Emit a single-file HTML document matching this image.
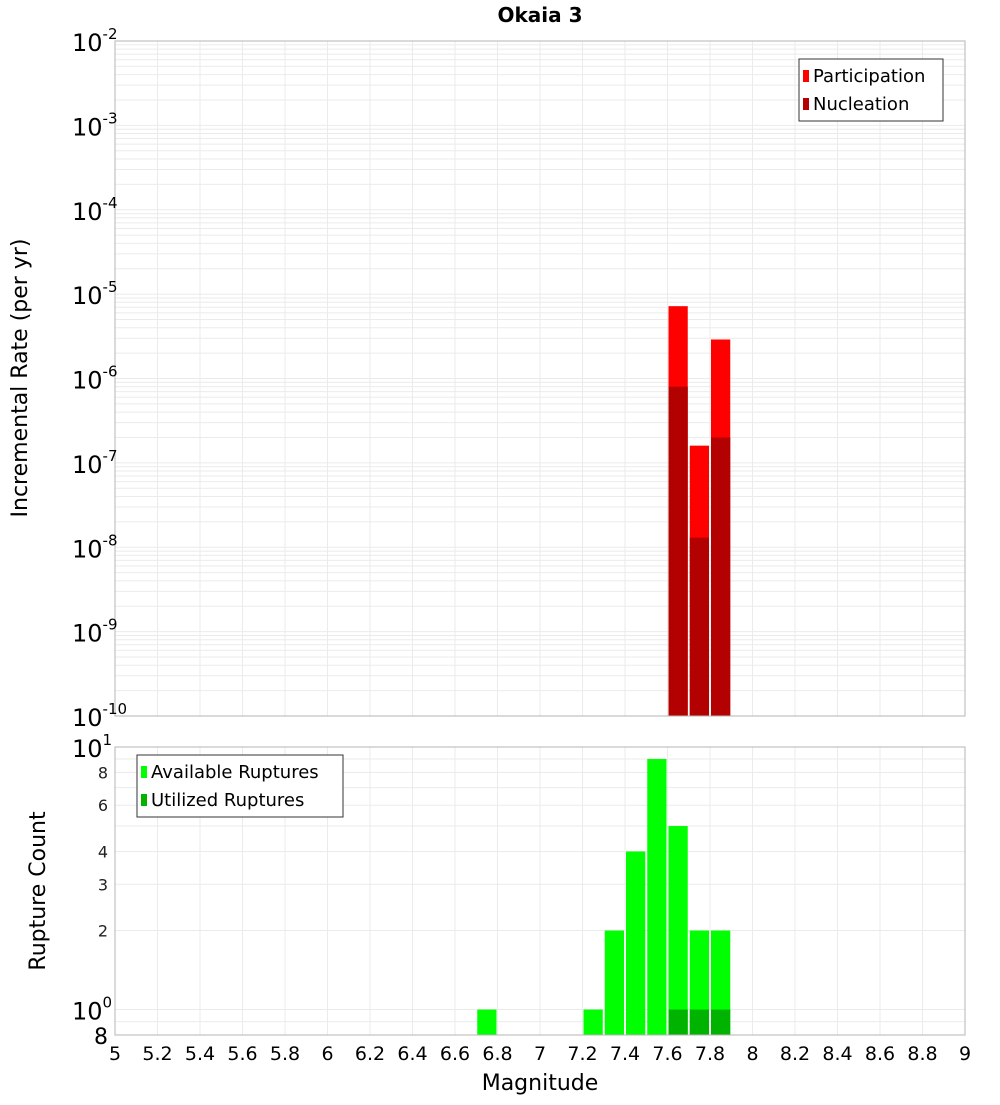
<!DOCTYPE html>
<html><head><meta charset="utf-8"><style>
body{margin:0;background:#fff;}
svg text{font-family:"DejaVu Sans","Liberation Sans",sans-serif;}
</style></head><body>
<svg id="chart" width="1000" height="1100" xmlns="http://www.w3.org/2000/svg">
<text x="540" y="22" font-size="20" font-weight="bold" text-anchor="middle">Okaia 3</text>
<g id="topPlot"></g><g id="botPlot"></g>
<text transform="translate(27,378) rotate(-90)" font-size="22" text-anchor="middle">Incremental Rate (per yr)</text>
<text transform="translate(45,891) rotate(-90)" font-size="22" text-anchor="middle">Rupture Count</text>
<text x="540" y="1090" font-size="22" text-anchor="middle">Magnitude</text>
</svg>
<script>
const magCenters=[7.65,7.75,7.85];
const participation=[7.2e-6,1.6e-7,2.9e-6];
const nucleation=[8e-7,1.3e-8,2e-7];
const countMags=[6.75,7.25,7.35,7.45,7.55,7.65,7.75,7.85];
const available=[1,1,2,4,9,5,2,2];
const utilizedMags=[7.65,7.75,7.85];
const utilized=[1,1,1];
const xTicks=[5,5.2,5.4,5.6,5.8,6,6.2,6.4,6.6,6.8,7,7.2,7.4,7.6,7.8,8,8.2,8.4,8.6,8.8,9];
const topExps=[-2,-3,-4,-5,-6,-7,-8,-9,-10];
const botMinor=[8,6,4,3,2];

const NS="http://www.w3.org/2000/svg";
const L=115,R=965;
const X=m=>L+(m-5)/4*(R-L);
const T0=41,T1=716,YT=v=>T0+(-2-Math.log10(v))/8*(T1-T0);
const B0=747,B1=1035,bmin=Math.log10(0.8),YB=v=>B0+(1-Math.log10(v))/(1-bmin)*(B1-B0);
function el(p,t,a,txt){const e=document.createElementNS(NS,t);for(const k in a)e.setAttribute(k,a[k]);if(txt!==undefined)e.textContent=txt;p.appendChild(e);return e;}
const gTop=document.getElementById('topPlot'),gBot=document.getElementById('botPlot');

for(let d=-10;d<-2;d++){for(let k=1;k<10;k++){const y=YT(k*Math.pow(10,d));
const g=el(gTop,'line',{x1:L,x2:R,y1:y,y2:y,stroke:'#ebebeb','stroke-width':1});

}}
for(const b of [gTop,gBot]){const y0=b===gTop?T0:B0,y1=b===gTop?T1:B1;
for(const t of xTicks){const g=el(b,'line',{x1:X(t),x2:X(t),y1:y0,y2:y1,stroke:'#ebebeb'});

}}
for(const v of [0.8,0.9,1,2,3,4,5,6,7,8,9,10]){const y=YB(v);
const g=el(gBot,'line',{x1:L,x2:R,y1:y,y2:y,stroke:'#ebebeb'});

}

magCenters.forEach((m,i)=>{
const x=X(m-0.05)+1,w=X(m+0.05)-X(m-0.05)-2;
let y=YT(participation[i]);
const p=el(gTop,'rect',{x:x,y:y,width:w,height:T1-y,fill:'#ff0000'});


y=YT(nucleation[i]);
const n=el(gTop,'rect',{x:x,y:y,width:w,height:T1-y,fill:'#b30000'});

});
countMags.forEach((m,i)=>{const x=X(m-0.05)+1,w=X(m+0.05)-X(m-0.05)-2,y=YB(available[i]);
const r=el(gBot,'rect',{x:x,y:y,width:w,height:B1-y,fill:'#00ff00'});

});
utilizedMags.forEach((m,i)=>{const x=X(m-0.05)+1,w=X(m+0.05)-X(m-0.05)-2,y=YB(utilized[i]);
const r=el(gBot,'rect',{x:x,y:y,width:w,height:B1-y,fill:'#00b300'});

});

let f=el(gTop,'rect',{x:L,y:T0,width:R-L,height:T1-T0,fill:'none',stroke:'#b4b4b4'});


f=el(gBot,'rect',{x:L,y:B0,width:R-L,height:B1-B0,fill:'none',stroke:'#b4b4b4'});



topExps.forEach(e=>{const y=YT(Math.pow(10,e));
const t=el(gTop,'text',{x:72,y:y+10,'font-size':24});


t.textContent='10';el(t,'tspan',{dy:-12,'font-size':15},String(e));});
[[10,'1'],[1,'0']].forEach(([v,e])=>{const y=YB(v);
const t=el(gBot,'text',{x:72,y:y+10,'font-size':24});


t.textContent='10';el(t,'tspan',{dy:-12,'font-size':15},e);});
botMinor.forEach(v=>{const t=el(gBot,'text',{x:108,y:YB(v)+6,'font-size':16,'text-anchor':'end',fill:'#222'},String(v));

});
let t8=el(gBot,'text',{x:108,y:B1+9,'font-size':22,'text-anchor':'end'},'8');


xTicks.forEach(v=>{const t=el(gBot,'text',{x:X(v),y:1060,'font-size':19,'text-anchor':'middle'},String(v));

});

function legend(p,x,y,w,items,name){const g=el(p,'g',{});


el(g,'rect',{x:x,y:y,width:w,height:items.length*28+6,fill:'#fff',stroke:'#333'});
items.forEach(([c,s],i)=>{const yy=y+6+i*28;
el(g,'rect',{x:x+4,y:yy+5,width:6,height:12,fill:c});
const t=el(g,'text',{x:x+14,y:yy+17,'font-size':18},s);

});}
legend(gTop,799,59,144,[['#ff0000','Participation'],['#b30000','Nucleation']],'top-legend');
legend(gBot,137,755,206,[['#00ff00','Available Ruptures'],['#00b300','Utilized Ruptures']],'bottom-legend');
</script>
</body></html>
